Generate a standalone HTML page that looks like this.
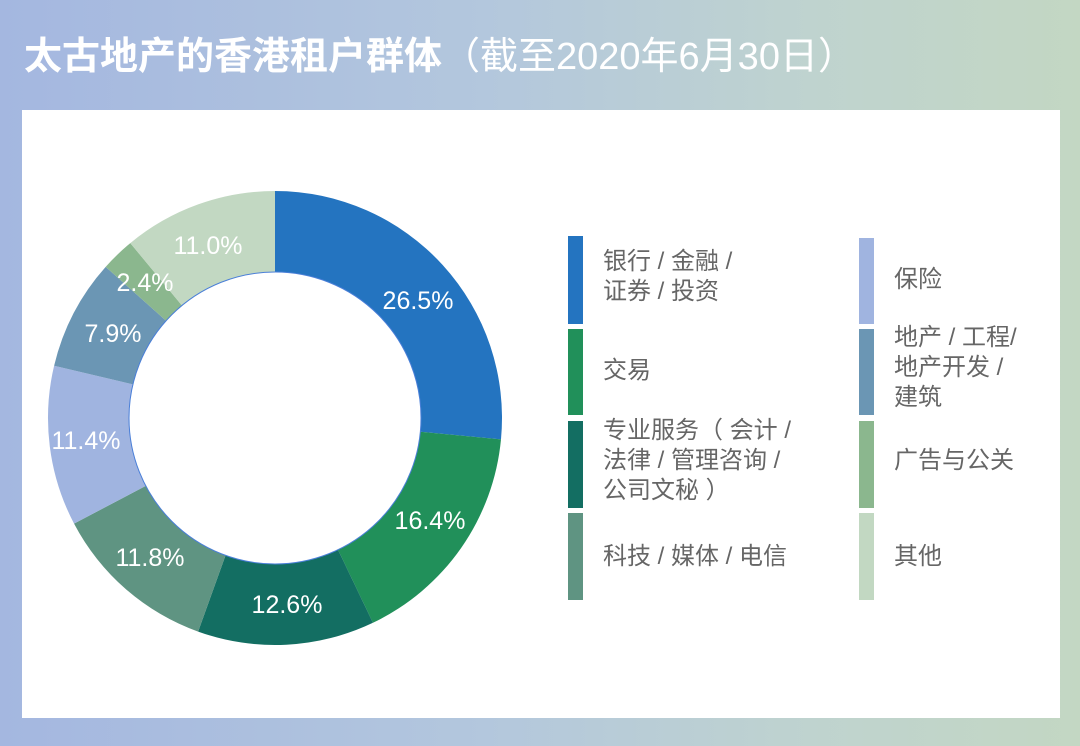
<!DOCTYPE html>
<html><head><meta charset="utf-8"><style>
body{margin:0;width:1080px;height:746px;overflow:hidden;background:linear-gradient(90deg,#a4b7e0 0%,#b3c7dd 45%,#bfd3cf 75%,#c3d7c3 100%);font-family:"Liberation Sans","Noto Sans CJK SC",sans-serif;position:relative}
.t{position:absolute;left:24px;top:33px;color:#fff;font-size:38px;line-height:48px;white-space:nowrap}
.t b{font-weight:bold}
.panel{position:absolute;left:22px;top:110px;width:1038px;height:608px;background:#fff}
.bar{position:absolute;width:15px}
.lg{position:absolute;color:#666;font-size:24px;line-height:30px;white-space:nowrap}
</style></head><body>
<div class="t"><b>太古地产的香港租户群体</b>（截至2020年6月30日）</div>
<div class="panel"></div>
<svg width="1080" height="746" style="position:absolute;left:0;top:0">
<g id="d"></g>
<g fill="#fff" font-size="25" font-family="Liberation Sans,sans-serif" text-anchor="middle">
<text x="418" y="309">26.5%</text>
<text x="430" y="529">16.4%</text>
<text x="287" y="613">12.6%</text>
<text x="150" y="566">11.8%</text>
<text x="86" y="449">11.4%</text>
<text x="113" y="342">7.9%</text>
<text x="145" y="291">2.4%</text>
<text x="208" y="254">11.0%</text>
</g>
</svg>
<script>
var v=[26.5,16.4,12.6,11.8,11.4,7.9,2.4,11.0],c=["#2474c0","#21905a","#136e62","#5f9482","#a0b4e0","#6b96b4","#8bb78e","#c2d8c2"];
var cx=275,cy=418,R=227,r=146,a=0,s="";
function p(rad,an){return [cx+rad*Math.sin(an),cy-rad*Math.cos(an)]}
v.forEach(function(x,i){var a0=a*2*Math.PI/100;a+=x;var a1=a*2*Math.PI/100;var L=(a1-a0)>Math.PI?1:0;
var A=p(R,a0),B=p(R,a1),C=p(r,a1),D=p(r,a0);
s+='<path fill="'+c[i]+'" d="M'+A+' A'+R+','+R+' 0 '+L+' 1 '+B+' L'+C+' A'+r+','+r+' 0 '+L+' 0 '+D+'Z"/>';});
document.getElementById('d').innerHTML=s+'<circle cx="275" cy="418" r="146" fill="none" stroke="#4a7fd8" stroke-width="1"/>';
</script>
<div class="bar" style="left:568px;top:236px;height:88px;background:#2474c0"></div>
<div class="bar" style="left:568px;top:329px;height:86px;background:#21905a"></div>
<div class="bar" style="left:568px;top:421px;height:87px;background:#136e62"></div>
<div class="bar" style="left:568px;top:513px;height:87px;background:#5f9482"></div>
<div class="bar" style="left:859px;top:238px;height:86px;background:#a0b4e0"></div>
<div class="bar" style="left:859px;top:329px;height:86px;background:#6b96b4"></div>
<div class="bar" style="left:859px;top:421px;height:87px;background:#8bb78e"></div>
<div class="bar" style="left:859px;top:513px;height:87px;background:#c2d8c2"></div>
<div class="lg" style="left:603px;top:247px">银行 / 金融 /<br>证券 / 投资</div>
<div class="lg" style="left:603px;top:356px">交易</div>
<div class="lg" style="left:603px;top:416px">专业服务（ 会计 /<br>法律 / 管理咨询 /<br>公司文秘 ）</div>
<div class="lg" style="left:603px;top:542px">科技 / 媒体 / 电信</div>
<div class="lg" style="left:894px;top:265px">保险</div>
<div class="lg" style="left:894px;top:323px">地产 / 工程/<br>地产开发 /<br>建筑</div>
<div class="lg" style="left:894px;top:446px">广告与公关</div>
<div class="lg" style="left:894px;top:542px">其他</div>
</body></html>
